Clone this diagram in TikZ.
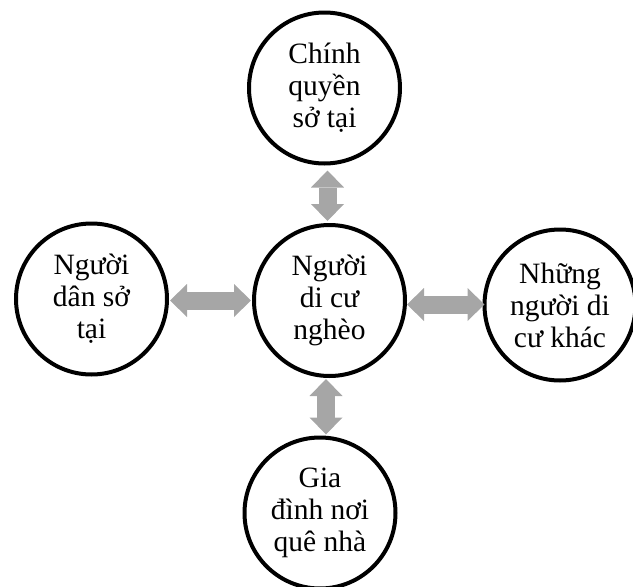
\documentclass[tikz,border=0pt]{standalone}
\usepackage{fontspec}
\setmainfont{Liberation Serif}
\usetikzlibrary{arrows.meta}
\definecolor{arrowGray}{HTML}{A6A6A6}
\begin{document}
\begin{tikzpicture}[x=1pt, y=-1pt,
    actor/.style={draw, circle, line width=4pt, minimum size=151pt, inner sep=0pt,
      align=center, font=\fontsize{29.5}{32}\selectfont},
    link/.style={draw=arrowGray, line width=18pt,
      {Triangle[length=17pt, width=33pt, line width=0pt]}-{Triangle[length=17pt, width=33pt, line width=0pt]}}]
    \useasboundingbox (0,0) rectangle (633,587);
    \node [actor] (poorMigrant) at (329.5,300.5) {Người\\di cư\\nghèo};
    \node [actor] (localGov) at (324.5,88) {Chính\\quyền\\sở tại};
    \node [actor] (localPeople) at (91.5,299) {Người\\dân sở\\tại};
    \node [actor] (otherMigrants) at (560,305) {Những\\người di\\cư khác};
    \node [actor] (homeFamily) at (320,513) {Gia\\đình nơi\\quê nhà};
    \draw [link, shorten <=2pt, shorten >=5pt] ([xshift=-2pt]poorMigrant.north) -- ([xshift=-2pt]poorMigrant.north |- localGov.south);
    \draw [link, shorten <=1pt, shorten >=1pt] (poorMigrant.west) -- (poorMigrant.west -| localPeople.east);
    \draw [link, shorten <=0pt, shorten >=-2pt] ([yshift=-4pt]poorMigrant.east) -- ([yshift=-4pt]poorMigrant.east -| otherMigrants.west);
    \draw [link, shorten <=1pt, shorten >=1pt] ([xshift=-3.5pt]poorMigrant.south) -- ([xshift=-3.5pt]poorMigrant.south |- homeFamily.north);
  \end{tikzpicture}
\end{document}
